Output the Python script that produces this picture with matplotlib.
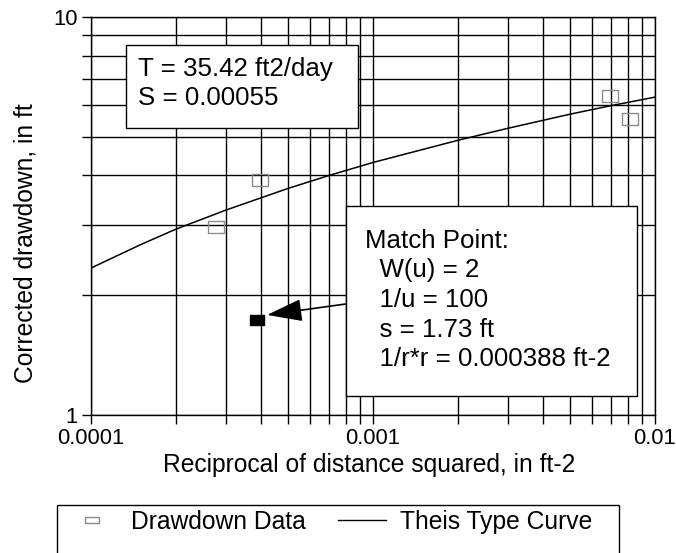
import matplotlib
matplotlib.use('Agg')
import matplotlib.pyplot as plt
from matplotlib.path import Path
from matplotlib.patches import Rectangle
from matplotlib.lines import Line2D
from matplotlib.ticker import FixedLocator, FixedFormatter, LogLocator, NullFormatter

plt.rcParams['font.family'] = ['Liberation Sans', 'DejaVu Sans']

# Drawdown data (1/r^2 in ft-2, corrected drawdown in ft)
recip_r2 = [2.78e-4, 3.97e-4, 6.92e-3, 8.15e-3]
drawdown = [2.97, 3.89, 6.33, 5.54]

# Theis type curve
curve_x = [1e-4, 1.5e-4, 2e-4, 3e-4, 5e-4, 7e-4, 1e-3, 2e-3, 3e-3, 5e-3, 7e-3, 1e-2]
curve_s = [2.34, 2.68, 2.93, 3.27, 3.71, 4.00, 4.31, 4.90, 5.25, 5.70, 5.99, 6.29]

# match point
match_x = 0.000388
match_s = 1.73

xtick_vals = [1e-4, 1e-3, 1e-2]
xtick_labels = ['0.0001', '0.001', '0.01']
ytick_vals = [1, 10]
ytick_labels = ['1', '10']

params_text = 'T = 35.42 ft2/day\nS = 0.00055'
match_text = 'Match Point:\n  W(u) = 2\n  1/u = 100\n  s = 1.73 ft\n  1/r*r = 0.000388 ft-2'


def rect_marker(aspect):
    # wide rectangle marker (the scanned squares look a bit flattened)
    verts = [(-1, -aspect), (1, -aspect), (1, aspect), (-1, aspect), (-1, -aspect)]
    codes = [Path.MOVETO, Path.LINETO, Path.LINETO, Path.LINETO, Path.CLOSEPOLY]
    return Path(verts, codes)


fig = plt.figure(figsize=(6.76, 5.53), dpi=100)
ax = fig.add_axes([91 / 676, 1 - 415 / 553, 564 / 676, 398 / 553])
ax.set_xscale('log')
ax.set_yscale('log')
ax.set_xlim(1e-4, 1e-2)
ax.set_ylim(1, 10)

ax.xaxis.set_major_locator(FixedLocator(xtick_vals))
ax.xaxis.set_major_formatter(FixedFormatter(xtick_labels))
ax.yaxis.set_major_locator(FixedLocator(ytick_vals))
ax.yaxis.set_major_formatter(FixedFormatter(ytick_labels))
for axis in (ax.xaxis, ax.yaxis):
    axis.set_minor_locator(LogLocator(base=10, subs=range(2, 10)))
    axis.set_minor_formatter(NullFormatter())

ax.grid(which='both', color='black', linewidth=1.0)
ax.tick_params(which='both', direction='out', length=6.5, width=1.0,
               labelsize=15.8, pad=3, colors='black')
for sp in ax.spines.values():
    sp.set_linewidth(1.0)

ax.plot(curve_x, curve_s, color='black', linewidth=1.1, zorder=3)
ax.plot(recip_r2, drawdown, linestyle='none', marker=rect_marker(0.7),
        markersize=11.5, markerfacecolor='none', markeredgecolor='#8c8c8c',
        markeredgewidth=1.0, zorder=3)
ax.plot([match_x], [match_s], linestyle='none', marker=rect_marker(0.75),
        markersize=10, color='black', zorder=5)

# parameter box
ax.add_patch(Rectangle((0.062, 0.721), 0.411, 0.209, transform=ax.transAxes,
                       facecolor='white', edgecolor='black', linewidth=1.0, zorder=4))
ax.text(0.083, 0.833, params_text, transform=ax.transAxes, fontsize=18.6,
        va='center', ha='left', linespacing=1.25, zorder=5)

# match point box
ax.add_patch(Rectangle((0.452, 0.048), 0.516, 0.477, transform=ax.transAxes,
                       facecolor='white', edgecolor='black', linewidth=1.0, zorder=4))
ax.text(0.486, 0.289, match_text, transform=ax.transAxes, fontsize=18.6,
        va='center', ha='left', linespacing=1.3, zorder=5)

ax.annotate('', xy=(4.21e-4, 1.784), xycoords='data',
            xytext=(0.452, 0.279), textcoords='axes fraction',
            arrowprops=dict(arrowstyle='-|>,head_length=2.2,head_width=0.7',
                            mutation_scale=10, color='black', linewidth=1.2,
                            shrinkA=0, shrinkB=0), zorder=6)

ax.set_xlabel('Reciprocal of distance squared, in ft-2', fontsize=17.7)
ax.xaxis.set_label_coords(0.494, -0.095)
ax.set_ylabel('Corrected drawdown, in ft', fontsize=17.7)
ax.yaxis.set_label_coords(-0.095, 0.431)

# legend below the plot, frame runs past the bottom edge
fig.add_artist(Rectangle((57 / 676, -0.05), (619 - 57) / 676, (553 - 505) / 553 + 0.05,
                         transform=fig.transFigure, fill=False, edgecolor='black',
                         linewidth=1.0))
handles = [
    Line2D([], [], linestyle='none', marker=rect_marker(0.47), markersize=10.5,
           markerfacecolor='none', markeredgecolor='#8c8c8c', markeredgewidth=1.0),
    Line2D([], [], color='black', linewidth=1.0),
]
fig.legend(handles, ['Drawdown Data', 'Theis Type Curve'], loc='center',
           bbox_to_anchor=(330.5 / 676, 1 - 522 / 553), ncol=2, frameon=False,
           fontsize=17.7, handlelength=1.95, handletextpad=0.6,
           columnspacing=1.3, borderpad=0, borderaxespad=0)

fig.savefig('out.png', dpi=100)
